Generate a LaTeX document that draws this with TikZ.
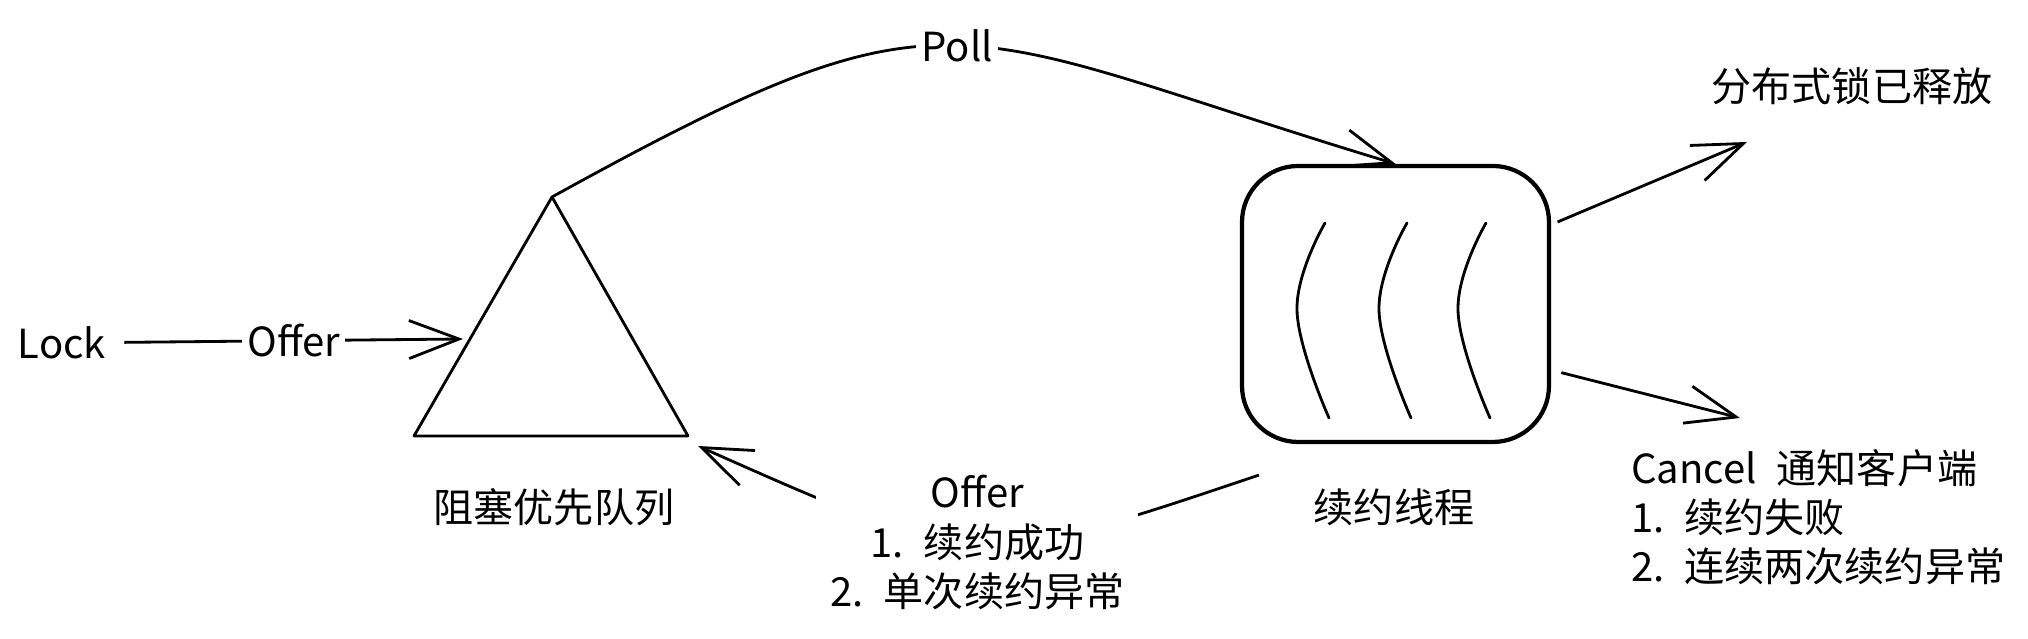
\documentclass[tikz,border=0pt]{standalone}
\usepackage{fontspec}
\setmainfont{Noto Sans CJK SC}
\usetikzlibrary{arrows.meta, positioning, calc}
\tikzset{
  txt/.style={font=\fontsize{11.4}{14}\selectfont, inner sep=1pt},
  edgelabel/.style={txt, fill=white, inner sep=1.5pt},
  threadbox/.style={rectangle, rounded corners=16pt, draw=black, line width=1.2pt,
                    minimum width=3.07cm, minimum height=2.76cm},
  arrow/.style={-{Straight Barb[length=5mm, width=3.8mm]}, line width=0.8pt},
  wave/.style={line width=0.8pt, line cap=round},
}

\begin{document}
\begin{tikzpicture}
  \useasboundingbox (0,0) rectangle (20.28,6.39);

  % Blocking priority queue
  \coordinate (qtop) at (5.52,4.42);
  \coordinate (qleft) at (4.14,2.03);
  \coordinate (qright) at (6.88,2.03);
  \draw[line width=0.8pt, line join=round] (qtop) -- (qleft) -- (qright) -- cycle;
  \node[txt] (queue) at (5.54,1.32) {阻塞优先队列};
  \coordinate (qin) at (4.63,3.00);

  % Lock
  \node[txt] (lock) at (0.62,2.96) {Lock};
  \draw[arrow, shorten <=4pt] (lock) -- node[edgelabel, pos=0.52] (offerin) {Offer} (qin);

  % Renewal thread
  \node[threadbox] (thread) at (13.955,3.35) {};
  \foreach \dx in {0,0.82,1.61}
    \draw[wave, xshift=\dx cm] plot[smooth, tension=0.7]
      coordinates {(13.25,4.16) (12.97,3.29) (13.29,2.21)};
  \node[txt] (threadname) at (13.94,1.32) {续约线程};

  % Poll
  \draw[arrow] (qtop) .. controls (9.58,6.66) and (9.45,6.11) ..
    node[edgelabel, pos=0.5] (poll) {Poll} (thread.north);

  % Renew result back to queue
  \draw[arrow] ([shift={(0.19,-0.31)}]thread.south west) .. controls (9.77,0.69) ..
    node[edgelabel, align=center, pos=0.5, inner sep=4pt] (renewok)
      {Offer\\1.\enspace 续约成功\\2.\enspace 单次续约异常}
    ([shift={(0.1,-0.1)}]qright);

  % Outputs
  \node[txt] (released) at (18.52,5.53) {分布式锁已释放};
  \coordinate (relin) at (17.47,4.97);
  \draw[arrow, shorten <=2pt] (thread.27) -- (relin);

  \node[txt, align=left, anchor=west] (cancel) at (16.27,1.22)
    {Cancel\enspace 通知客户端\\1.\enspace 续约失败\\2.\enspace 连续两次续约异常};
  \coordinate (cancelin) at (17.40,2.21);
  \draw[arrow, shorten <=3pt] (thread.-23) -- (cancelin);
\end{tikzpicture}
\end{document}
